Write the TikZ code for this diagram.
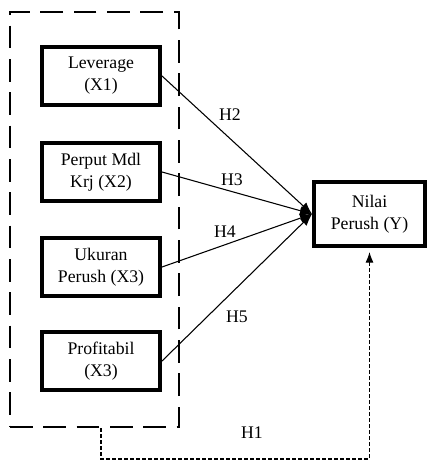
\documentclass[tikz,border=0pt]{standalone}
\usepackage{fontspec}
\setmainfont{Liberation Serif}
\usetikzlibrary{arrows.meta}

\begin{document}
\begin{tikzpicture}[x=0.75pt,y=-0.75pt]
\tikzstyle{every node}=[font=\fontsize{13.3}{16.5}\selectfont]
\tikzstyle{varbox}=[draw,line width=3pt,minimum width=88.5pt,minimum height=44pt,align=center,inner sep=0pt]
\tikzstyle{hyp}=[draw,line width=0.8pt,-{Latex[length=9pt,width=7pt]}]
\useasboundingbox (0,0) rectangle (429,461);

\node (grp) at (94.5,219.5) [draw,line width=2pt,dash pattern=on 17pt off 8pt,minimum width=126.75pt,minimum height=311.25pt] {};

\node (lev) at (101,76) [varbox] {Leverage\\(X1)};
\node (mdl) at (101,172) [varbox] {Perput Mdl\\Krj (X2)};
\node (ukr) at (101,267) [varbox] {Ukuran\\Perush (X3)};
\node (prf) at (101,361) [varbox] {Profitabil\\(X3)};

\node (nil) at (369.5,214) [varbox,minimum width=83.25pt,minimum height=48pt] {Nilai\\Perush (Y)};

\node (h2) at (230,115) {H2};
\node (h3) at (232,180) {H3};
\node (h4) at (225,232) {H4};
\node (h5) at (237,317) {H5};
\node (h1) at (252,433) {H1};

\path [hyp] (lev.east) -- (nil.west);
\path [hyp] (mdl.east) -- (nil.west);
\path [hyp] (ukr.east) -- (nil.west);
\path [hyp] (prf.east) -- (nil.west);

% H1, dashed route under the group
\coordinate (low) at (101,459);
\path [draw,line width=0.8pt,dash pattern=on 3pt off 1.5pt,-{Latex[length=8pt,width=6pt]},shorten >=3pt]
  (lev |- grp.south) -- (low) -| (nil.south);

\end{tikzpicture}
\end{document}
